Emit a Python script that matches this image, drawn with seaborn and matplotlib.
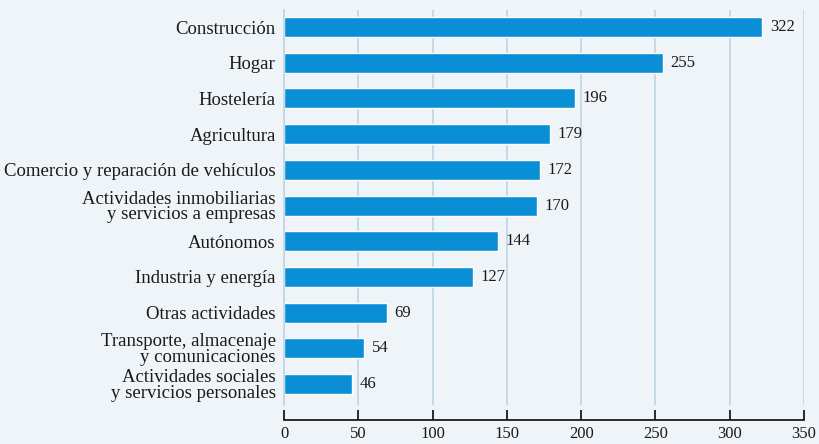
import matplotlib
matplotlib.use("Agg")
import matplotlib.pyplot as plt
import pandas as pd
import seaborn as sns

sectores = [
    "Construcción",
    "Hogar",
    "Hostelería",
    "Agricultura",
    "Comercio y reparación de vehículos",
    "Actividades inmobiliarias\ny servicios a empresas",
    "Autónomos",
    "Industria y energía",
    "Otras actividades",
    "Transporte, almacenaje\ny comunicaciones",
    "Actividades sociales\ny servicios personales",
]
valores = [322, 255, 196, 179, 172, 170, 144, 127, 69, 54, 46]
x_ticks = [0, 50, 100, 150, 200, 250, 300, 350]

bg = "#eef4f8"
bar_color = "#0a8ed6"
grid_color = "#bcd5e4"
ink = "#1a1a1a"

sns.set_style("white")
plt.rcParams["font.family"] = ["Liberation Serif", "DejaVu Serif"]

df = pd.DataFrame({"sector": sectores, "valor": valores})

fig = plt.figure(figsize=(8.19, 4.44), dpi=100, facecolor=bg)
ax = fig.add_axes([0.3468, 0.0878, 0.6349, 0.8897])
ax.set_facecolor(bg)

sns.barplot(data=df, x="valor", y="sector", orient="h", color=bar_color,
            saturation=1, width=0.56, ax=ax)

# etiquetas de valor al final de cada barra
for i, v in enumerate(valores):
    ax.text(v + 5, i, str(v), va="center", ha="left", fontsize=12, color=ink)

ax.set_xlim(0, 350)
ax.set_ylim(10.59, -0.48)
ax.set_xticks(x_ticks)
ax.set_xlabel("")
ax.set_ylabel("")

ax.xaxis.grid(True, color=grid_color, linewidth=1.2)
ax.set_axisbelow(True)

for s in ["top", "right"]:
    ax.spines[s].set_visible(False)
ax.spines["left"].set_color(grid_color)
ax.spines["left"].set_linewidth(1.2)
ax.spines["bottom"].set_color(ink)
ax.spines["bottom"].set_linewidth(1.3)
ax.spines["bottom"].set_position(("outward", 11))

ax.tick_params(axis="x", bottom=True, direction="in", length=7, width=1.3, color=ink,
               labelsize=12, pad=4, labelcolor=ink)
ax.tick_params(axis="y", left=False, length=0, labelsize=13.5, pad=6, labelcolor=ink)
for lab in ax.get_yticklabels():
    lab.set_linespacing(0.9)

fig.savefig("out.png", dpi=100, facecolor=bg)
